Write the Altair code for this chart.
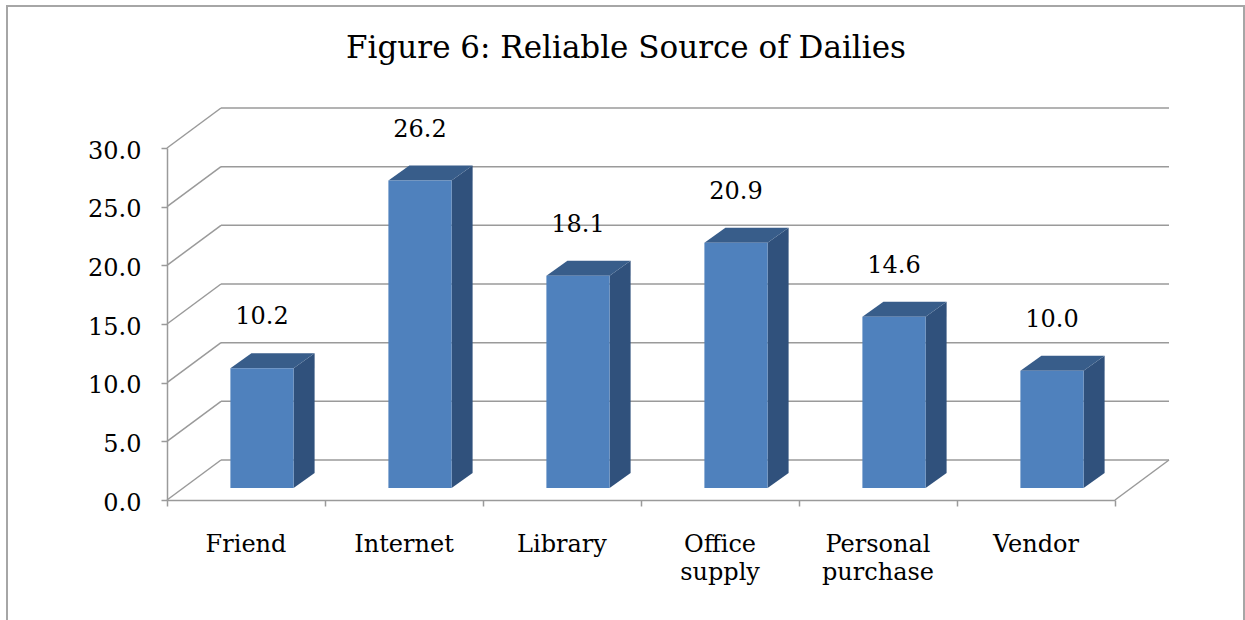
import altair as alt
import pandas as pd

# ---- data ----
categories = ["Friend", "Internet", "Library", "Office supply", "Personal purchase", "Vendor"]
values = [10.2, 26.2, 18.1, 20.9, 14.6, 10.0]
y_ticks = [0, 5, 10, 15, 20, 25, 30]
title_text = "Figure 6: Reliable Source of Dailies"

# ---- layout / projection (pixels) ----
W, H = 948, 352
N = len(categories)
YMAX = 30
ux = W / N
uy = H / YMAX
WALL_DX, WALL_DY = 54, 40          # depth of the back wall
BAR_SHIFT_DX, BAR_SHIFT_DY = 16, 12  # bar front face behind the front plane
BAR_DX, BAR_DY = 21, 15            # bar depth
BAR_FRAC = 0.4

wx, wy = WALL_DX / ux, WALL_DY / uy
sx, sy = BAR_SHIFT_DX / ux, BAR_SHIFT_DY / uy
bdx, bdy = BAR_DX / ux, BAR_DY / uy

FONT = "DejaVu Serif"
GRID = "#9a9a9a"
FRONT = "#4F81BD"
TOP = "#385D8A"
SIDE = "#30517C"

# ---- tables built from the arrays ----
bars = pd.DataFrame({
    "cat": categories,
    "v": values,
    "xl": [i + 0.5 - BAR_FRAC / 2 + sx for i in range(N)],
    "xr": [i + 0.5 + BAR_FRAC / 2 + sx for i in range(N)],
    "xc": [i + 0.5 + sx for i in range(N)],
    "yb": [sy] * N,
    "yt": [v + sy for v in values],
    "label": [f"{v:.1f}" for v in values],
})

side_rows, top_rows = [], []
for r in bars.itertuples():
    side_rows.append({"cat": r.cat, "x": r.xr, "lo": r.yb, "hi": r.yt})
    side_rows.append({"cat": r.cat, "x": r.xr + bdx, "lo": r.yb + bdy, "hi": r.yt + bdy})
    top_rows.append({"cat": r.cat, "y": r.yt, "x1": r.xl, "x2": r.xr})
    top_rows.append({"cat": r.cat, "y": r.yt + bdy, "x1": r.xl + bdx, "x2": r.xr + bdx})
side_df = pd.DataFrame(side_rows)
top_df = pd.DataFrame(top_rows)

seg = []
for t in y_ticks:
    seg.append({"x": wx, "y": t + wy, "x2": N + wx, "y2": t + wy})   # back wall
    seg.append({"x": 0, "y": t, "x2": wx, "y2": t + wy})             # side wall
seg.append({"x": N, "y": 0, "x2": N + wx, "y2": wy})                # floor right edge
seg_df = pd.DataFrame(seg)

cat_df = pd.DataFrame({
    "xc": [i + 0.5 for i in range(N)],
    "y": [0] * N,
    "label": [c.replace(" ", "\n") for c in categories],
})

xs = alt.Scale(domain=[0, N], nice=False, zero=False)
ys = alt.Scale(domain=[0, YMAX], nice=False)
x_axis = alt.Axis(values=list(range(N + 1)), labels=False, title=None, grid=False,
                  tickSize=6, tickColor=GRID, tickWidth=1.5, domainColor=GRID, domainWidth=1.5)
y_axis = alt.Axis(values=y_ticks, format=".1f", title=None, grid=False,
                  tickSize=6, tickColor=GRID, tickWidth=1.5, domainColor=GRID, domainWidth=1.5,
                  labelFont=FONT, labelFontSize=24, labelColor="black", labelPadding=20,
                  labelOffset=3)

grid = alt.Chart(seg_df).mark_rule(color=GRID, strokeWidth=1.5).encode(
    x=alt.X("x:Q", scale=xs, axis=x_axis),
    y=alt.Y("y:Q", scale=ys, axis=y_axis),
    x2="x2:Q", y2="y2:Q",
)

side = alt.Chart(side_df).mark_area(color=SIDE, orient="vertical").encode(
    x=alt.X("x:Q", scale=xs, axis=x_axis),
    y=alt.Y("hi:Q", scale=ys, axis=y_axis, stack=False),
    y2="lo:Q",
    detail="cat:N",
)

top = alt.Chart(top_df).mark_area(color=TOP, orient="horizontal").encode(
    y=alt.Y("y:Q", scale=ys, axis=y_axis),
    x=alt.X("x1:Q", scale=xs, axis=x_axis, stack=False),
    x2="x2:Q",
    detail="cat:N",
)

front = alt.Chart(bars).mark_rect(color=FRONT).encode(
    x=alt.X("xl:Q", scale=xs, axis=x_axis),
    x2="xr:Q",
    y=alt.Y("yb:Q", scale=ys, axis=y_axis),
    y2="yt:Q",
)

vlabels = alt.Chart(bars).mark_text(font=FONT, fontSize=24, color="black",
                                    baseline="alphabetic", dy=-44).encode(
    x=alt.X("xc:Q", scale=xs, axis=x_axis),
    y=alt.Y("yt:Q", scale=ys, axis=y_axis),
    text="label:N",
)

clabels = alt.Chart(cat_df).mark_text(font=FONT, fontSize=24, color="black",
                                      baseline="alphabetic", dy=52, lineBreak="\n",
                                      lineHeight=28).encode(
    x=alt.X("xc:Q", scale=xs, axis=x_axis),
    y=alt.Y("y:Q", scale=ys, axis=y_axis),
    text="label:N",
)

border = alt.Chart(pd.DataFrame({"a": [0]})).mark_rect(
    fill=None, fillOpacity=0, stroke="#a6a6a6", strokeWidth=2).encode(
    x=alt.value(7 - 167), x2=alt.value(1244 - 167),
    y=alt.value(6 - 148), y2=alt.value(640 - 148),
)

chart = alt.layer(grid, side, top, front, vlabels, clabels, border).properties(
    width=W, height=H,
    title=alt.TitleParams(text=title_text, font=FONT, fontSize=31, fontWeight="normal",
                          color="black", anchor="middle", offset=-60, dx=-15),
    autosize=alt.AutoSizeParams(type="none"),
    padding={"left": 167, "top": 148, "right": 1245 - 167 - W, "bottom": 620 - 148 - H},
).configure(background="white").configure_view(stroke=None, strokeWidth=0)

chart.save("out.html", embed_options={"renderer": "svg", "actions": False})
